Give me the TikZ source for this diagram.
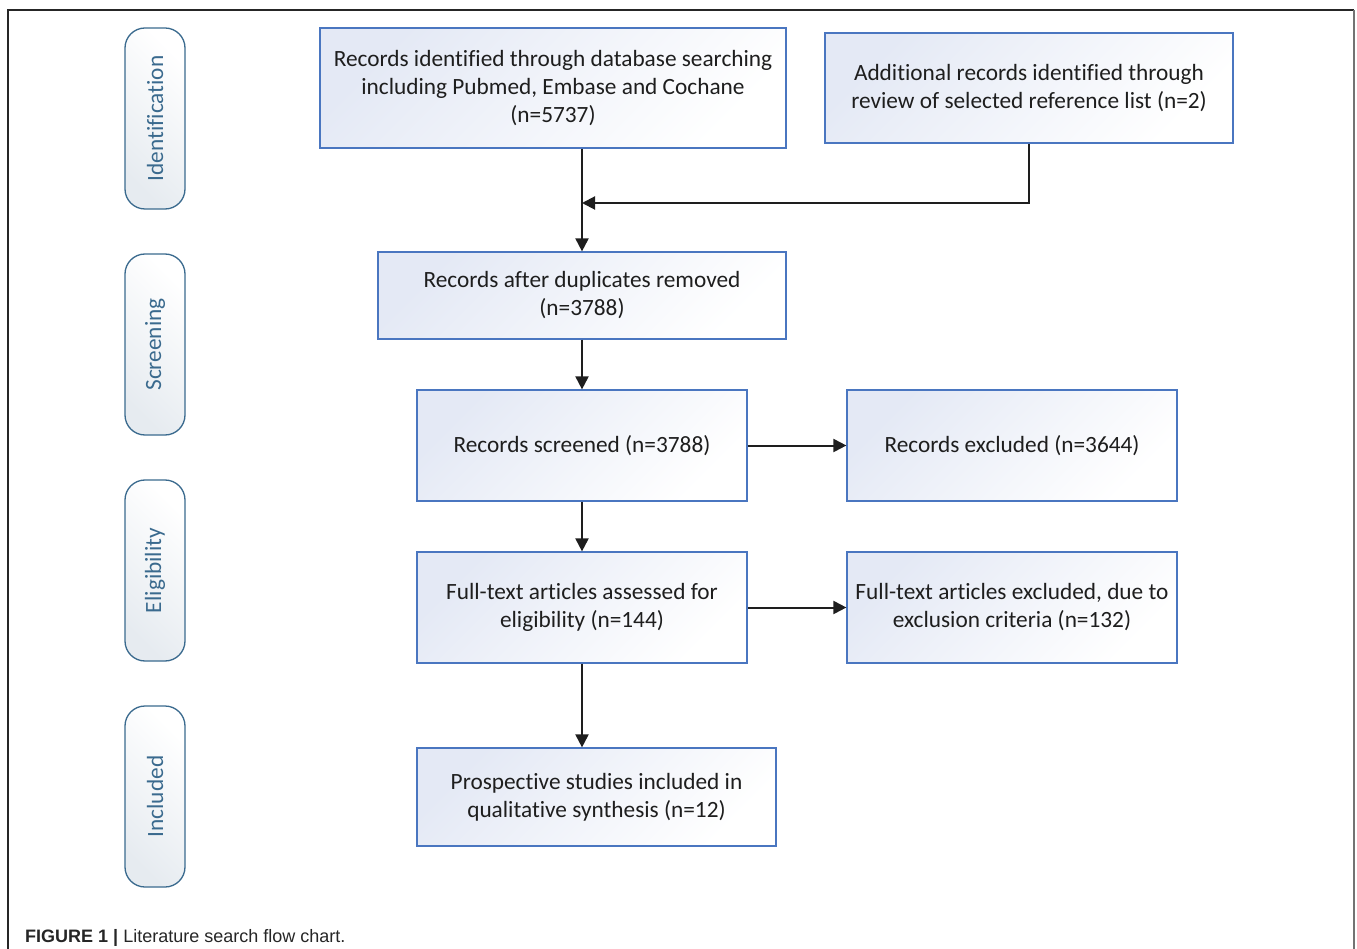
\documentclass[tikz,border=0pt]{standalone}
\usepackage{fontspec}
\setmainfont[Ligatures={NoCommon}]{Carlito}
\newfontfamily\capfont{Liberation Sans}
\usetikzlibrary{arrows.meta,calc}
\definecolor{boxblue}{HTML}{4A76C0}
\definecolor{boxfill}{HTML}{E4E9F5}
\definecolor{pillblue}{HTML}{3A6A8E}
\definecolor{pillfill}{HTML}{E6EBF0}
\definecolor{txt}{HTML}{1E1E1E}
\tikzset{
  flowbox/.style={draw=boxblue, line width=1.2pt, shading=axis, top color=boxfill, bottom color=white, shading angle=45, align=center, text=txt, font=\fontsize{23.3}{28}\selectfont, inner sep=0pt},
  pill/.style={draw=pillblue, line width=1.3pt, rounded corners=20pt, shading=axis, top color=white, bottom color=pillfill, shading angle=-45, minimum width=60pt, minimum height=181pt, inner sep=0pt},
  pilltext/.style={rotate=90, text=pillblue, font=\fontsize{23.3}{28}\selectfont},
  arr/.style={-{Triangle[length=13pt,width=13pt]}, line width=2pt, draw=txt}
}
\begin{document}
\begin{tikzpicture}[x=1pt,y=-1pt]
\useasboundingbox (0,0) rectangle (1357,949);
% frame
\draw[line width=1.3pt, draw=black!85] (8,960) -- (8,10) -- (1354,10);
\draw[line width=2.2pt, draw=black!55] (1354,10) -- (1354,960);
% phase pills
\node[pill] (p1) at (155,118.5) {};
\node[pilltext] at (p1) {Identification};
\node[pill] (p2) at (155,344.5) {};
\node[pilltext] at (p2) {Screening};
\node[pill] (p3) at (155,570.5) {};
\node[pilltext] at (p3) {Eligibility};
\node[pill] (p4) at (155,796.5) {};
\node[pilltext] at (p4) {Included};
% boxes
\node[flowbox, minimum width=466pt, minimum height=120pt] (A) at (553,88) {Records identified through database searching\\including Pubmed, Embase and Cochane\\(n=5737)};
\node[flowbox, minimum width=408pt, minimum height=110pt] (B) at (1029,88) {Additional records identified through\\review of selected reference list (n=2)};
\node[flowbox, minimum width=408pt, minimum height=87pt] (C) at (582,295.5) {Records after duplicates removed\\(n=3788)};
\node[flowbox, minimum width=330pt, minimum height=111pt] (D) at (582,445.5) {Records screened (n=3788)};
\node[flowbox, minimum width=330pt, minimum height=111pt] (E) at (1012,445.5) {Records excluded (n=3644)};
\node[flowbox, minimum width=330pt, minimum height=111pt] (F) at (582,607.5) {Full-text articles assessed for\\eligibility (n=144)};
\node[flowbox, minimum width=330pt, minimum height=111pt] (G) at (1012,607.5) {Full-text articles excluded, due to\\exclusion criteria (n=132)};
\node[flowbox, minimum width=359pt, minimum height=98pt] (H) at (596.5,797) {Prospective studies included in\\qualitative synthesis (n=12)};
% connectors
\coordinate (j) at (582,203);
\draw[arr] (C.north |- A.south) -- (C.north);
\draw[arr] (B.south) |- (j);
\draw[arr] (C.south) -- (D.north);
\draw[arr] (D.east) -- (E.west);
\draw[arr] (D.south) -- (F.north);
\draw[arr] (F.east) -- (G.west);
\draw[arr] (F.south) -- (F.south |- H.north);
% caption
\node[anchor=base west, inner sep=0pt, font=\capfont\fontsize{18}{22}\selectfont, text=black!85] (cap) at (25,942) {\textbf{FIGURE 1 |} Literature search flow chart.};
\end{tikzpicture}
\end{document}
